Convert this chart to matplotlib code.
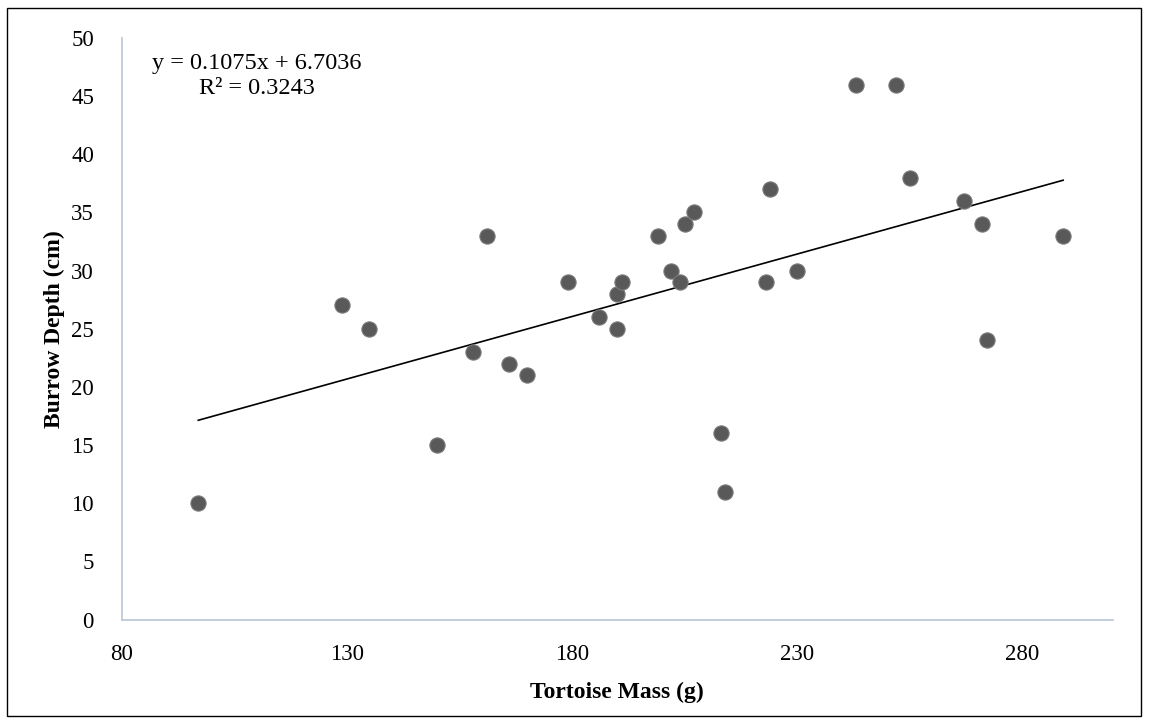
import matplotlib
matplotlib.use("Agg")
import matplotlib.pyplot as plt
from matplotlib.patches import Rectangle
import numpy as np

# Tortoise mass (g) vs burrow depth (cm)
mass = [97, 129, 135, 150, 158, 161, 166, 170, 179, 186,
        190, 190, 191, 199, 202, 204, 205, 207, 213, 214,
        223, 224, 230, 243, 252, 255, 267, 271, 272, 289]
depth = [10, 27, 25, 15, 23, 33, 22, 21, 29, 26,
         25, 28, 29, 33, 30, 29, 34, 35, 16, 11,
         29, 37, 30, 46, 46, 38, 36, 34, 24, 33]

# Linear trendline as printed on the chart
slope = 0.1075
intercept = 6.7036
r_squared = 0.3243

x_ticks = [80, 130, 180, 230, 280]
y_ticks = list(range(0, 55, 5))

plt.rcParams['font.family'] = ['Liberation Serif', 'DejaVu Serif']

W, H = 1149, 723
fig = plt.figure(figsize=(W / 100, H / 100), dpi=100)
ax = fig.add_axes([121.7 / W, 1 - 619.5 / H, (1112.7 - 121.7) / W, (619.5 - 38) / H])

ax.scatter(mass, depth, s=120, color='#595959', edgecolors='#7a7a7a',
           linewidths=0.8, zorder=3, clip_on=False)

# trendline over the data range
xs = np.array([min(mass), max(mass)])
ax.plot(xs, slope * xs + intercept, color='black', linewidth=1.2, zorder=2)

# equation label in the upper left corner
ax.text(110, 46.7, f"y = {slope}x + {intercept}\nR\u00b2 = {r_squared}",
        ha='center', va='center', multialignment='center',
        fontsize=17.5, linespacing=1.25)

ax.set_xlim(80, 300)
ax.set_ylim(0, 50)
ax.set_xticks(x_ticks)
ax.set_yticks(y_ticks)
ax.tick_params(length=0, labelsize=16.5)
ax.tick_params(axis='x', pad=18)
ax.tick_params(axis='y', pad=20)

for side in ['top', 'right']:
    ax.spines[side].set_visible(False)
for side in ['left', 'bottom']:
    ax.spines[side].set_color('#BFC9D9')
    ax.spines[side].set_linewidth(1.3)

ax.set_xlabel('Tortoise Mass (g)', fontsize=17, fontweight='bold', labelpad=12)
ax.set_ylabel('Burrow Depth (cm)', fontsize=17, fontweight='bold', labelpad=4)

# thin black frame around the whole picture
fig.patches.append(Rectangle((7 / W, 1 - 716 / H), (1141 - 7) / W, (716 - 8) / H,
                             transform=fig.transFigure, fill=False,
                             edgecolor='black', linewidth=1.0))

fig.savefig('out.png', dpi=100)
